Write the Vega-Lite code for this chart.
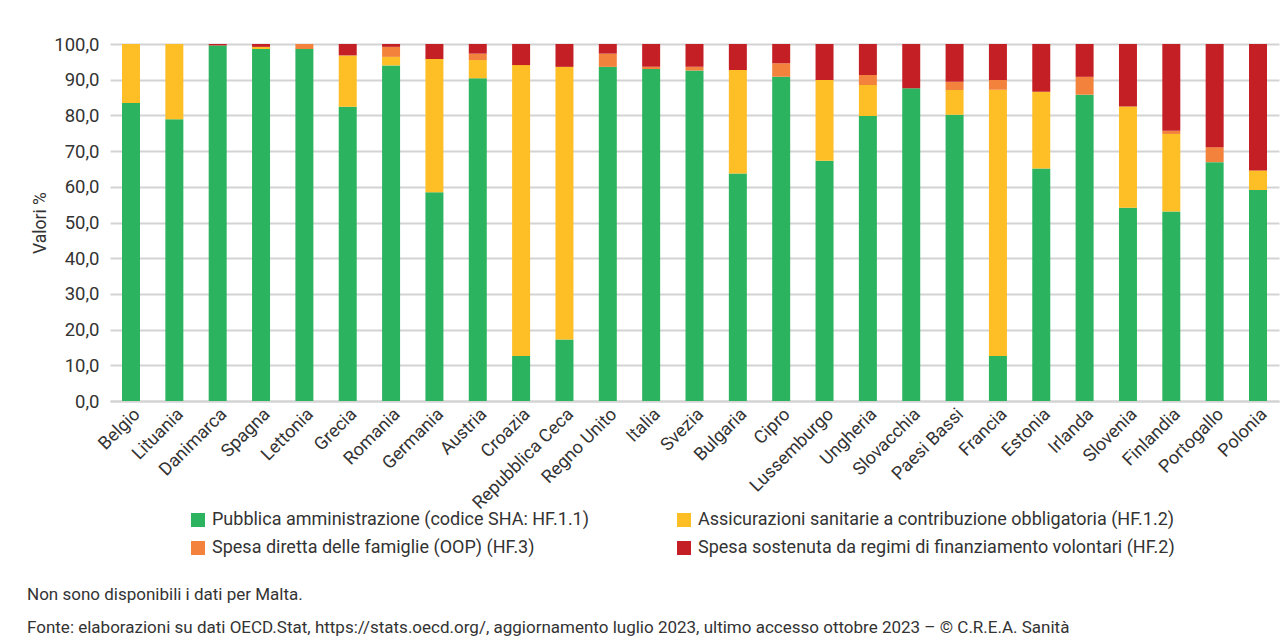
{
  "$schema": "https://vega.github.io/schema/vega-lite/v6.json",
  "autosize": {"type": "none"},
  "padding": {"left": 110, "top": 44, "right": 4, "bottom": 240},
  "width": 1169,
  "height": 357,
  "background": "white",
  "title": {
    "text": ["Non sono disponibili i dati per Malta.", "Fonte: elaborazioni su dati OECD.Stat, https://stats.oecd.org/, aggiornamento luglio 2023, ultimo accesso ottobre 2023 – © C.R.E.A. Sanità"],
    "orient": "bottom",
    "anchor": "start",
    "frame": "group",
    "dx": -83,
    "offset": 30,
    "fontSize": 17,
    "fontWeight": "normal",
    "color": "#333333",
    "lineHeight": 33,
    "font": "Roboto"
  },
  "data": {
    "values": [
      {"paese": "Belgio", "a": 83.5, "b": 16.5, "c": 0, "d": 0},
      {"paese": "Lituania", "a": 78.9, "b": 21.1, "c": 0, "d": 0},
      {"paese": "Danimarca", "a": 99.6, "b": 0, "c": 0, "d": 0.4},
      {"paese": "Spagna", "a": 98.6, "b": 0.6, "c": 0, "d": 0.8},
      {"paese": "Lettonia", "a": 98.6, "b": 0, "c": 1.4, "d": 0},
      {"paese": "Grecia", "a": 82.4, "b": 14.4, "c": 0, "d": 3.2},
      {"paese": "Romania", "a": 94.0, "b": 2.4, "c": 2.8, "d": 0.8},
      {"paese": "Germania", "a": 58.5, "b": 37.3, "c": 0, "d": 4.2},
      {"paese": "Austria", "a": 90.4, "b": 5.1, "c": 1.8, "d": 2.7},
      {"paese": "Croazia", "a": 12.6, "b": 81.5, "c": 0, "d": 5.9},
      {"paese": "Repubblica Ceca", "a": 17.2, "b": 76.4, "c": 0, "d": 6.4},
      {"paese": "Regno Unito", "a": 93.6, "b": 0, "c": 3.7, "d": 2.7},
      {"paese": "Italia", "a": 93.0, "b": 0, "c": 0.6, "d": 6.4},
      {"paese": "Svezia", "a": 92.6, "b": 0, "c": 1.0, "d": 6.4},
      {"paese": "Bulgaria", "a": 63.7, "b": 29.0, "c": 0, "d": 7.3},
      {"paese": "Cipro", "a": 90.8, "b": 0, "c": 3.8, "d": 5.4},
      {"paese": "Lussemburgo", "a": 67.3, "b": 22.6, "c": 0, "d": 10.1},
      {"paese": "Ungheria", "a": 79.8, "b": 8.7, "c": 2.8, "d": 8.7},
      {"paese": "Slovacchia", "a": 87.6, "b": 0, "c": 0, "d": 12.4},
      {"paese": "Paesi Bassi", "a": 80.2, "b": 6.9, "c": 2.3, "d": 10.6},
      {"paese": "Francia", "a": 12.6, "b": 74.6, "c": 2.7, "d": 10.1},
      {"paese": "Estonia", "a": 65.1, "b": 21.5, "c": 0, "d": 13.4},
      {"paese": "Irlanda", "a": 85.8, "b": 0, "c": 5.0, "d": 9.2},
      {"paese": "Slovenia", "a": 54.1, "b": 28.4, "c": 0, "d": 17.5},
      {"paese": "Finlandia", "a": 53.1, "b": 21.7, "c": 0.9, "d": 24.3},
      {"paese": "Portogallo", "a": 66.9, "b": 0, "c": 4.2, "d": 28.9},
      {"paese": "Polonia", "a": 59.1, "b": 5.5, "c": 0, "d": 35.4}
    ]
  },
  "transform": [
    {"fold": ["a", "b", "c", "d"], "as": ["voce", "valore"]}
  ],
  "mark": {"type": "bar"},
  "encoding": {
    "x": {
      "field": "paese",
      "type": "nominal",
      "sort": null,
      "scale": {"paddingInner": 0.585, "paddingOuter": 0.277},
      "axis": {
        "title": null,
        "labelAngle": -45,
        "labelFontSize": 18,
        "labelPadding": 4,
        "ticks": false,
        "domainColor": "#d3d3d3",
        "domainWidth": 2
      }
    },
    "y": {
      "field": "valore",
      "type": "quantitative",
      "stack": "zero",
      "scale": {"domain": [0, 100], "nice": false},
      "axis": {
        "title": "Valori %",
        "values": [0, 10, 20, 30, 40, 50, 60, 70, 80, 90, 100],
        "format": ".1f",
        "labelFontSize": 18.5,
        "labelPadding": 11,
        "ticks": false,
        "domain": false,
        "titleFontSize": 17.5,
        "titleFontWeight": "normal",
        "titlePadding": 4,
        "gridColor": "#d3d3d3",
        "gridWidth": 2
      }
    },
    "order": {"field": "voce", "sort": "ascending"},
    "color": {
      "field": "voce",
      "type": "nominal",
      "scale": {
        "domain": ["a", "b", "c", "d"],
        "range": ["#2bb35f", "#fdbe26", "#f2823c", "#c41f25"]
      },
      "legend": {
        "title": null,
        "orient": "none",
        "legendX": 79,
        "legendY": 467,
        "direction": "horizontal",
        "columns": 2,
        "columnPadding": 85,
        "rowPadding": 10,
        "symbolType": "square",
        "symbolSize": 196,
        "symbolStrokeWidth": 0,
        "labelFontSize": 18,
        "labelLimit": 600,
        "labelOffset": 5,
        "labelExpr": "datum.value == 'a' ? 'Pubblica amministrazione (codice SHA: HF.1.1)' : datum.value == 'b' ? 'Assicurazioni sanitarie a contribuzione obbligatoria (HF.1.2)' : datum.value == 'c' ? 'Spesa diretta delle famiglie (OOP) (HF.3)' : 'Spesa sostenuta da regimi di finanziamento volontari (HF.2)'"
      }
    }
  },
  "config": {
    "locale": {"number": {"decimal": ",", "thousands": ".", "grouping": [3], "currency": ["", " €"]}},
    "font": "Roboto",
    "view": {"stroke": null},
    "axis": {"labelColor": "#333333", "titleColor": "#333333", "labelFont": "Roboto", "titleFont": "Roboto"},
    "legend": {"labelColor": "#333333", "labelFont": "Roboto"}
  }
}
